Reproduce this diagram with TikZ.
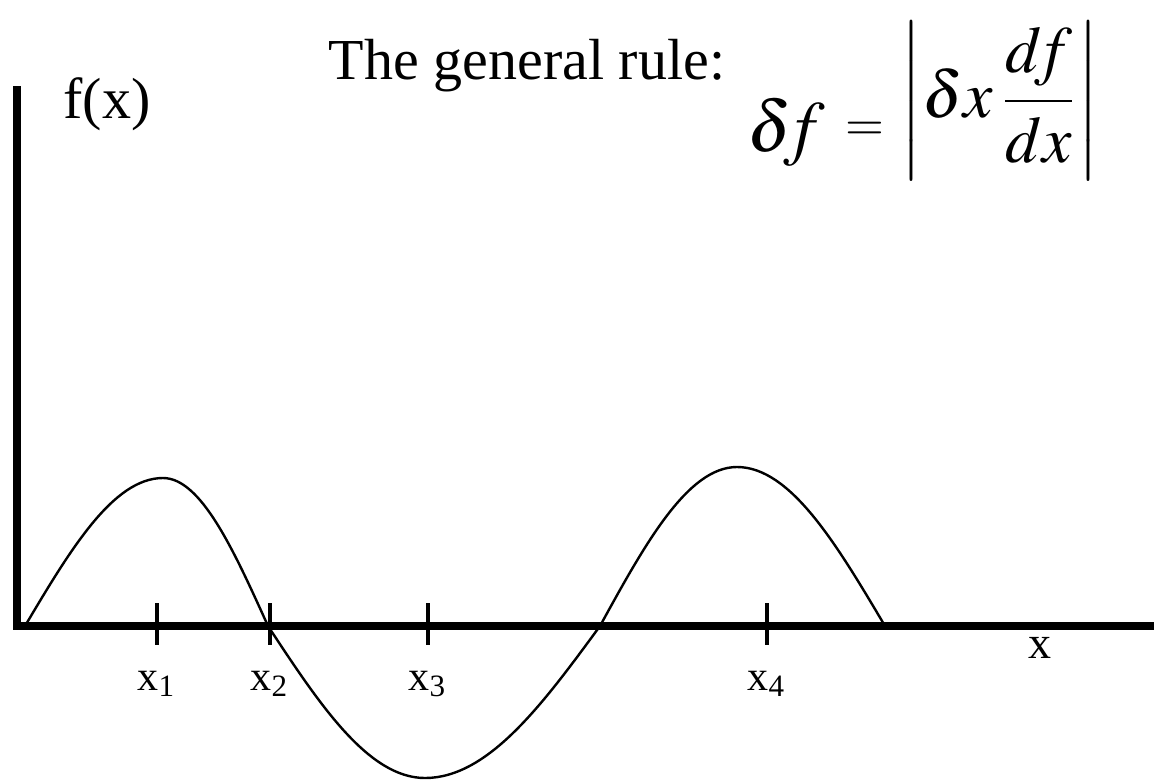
\documentclass[tikz,border=0pt]{standalone}
\usepackage{amsmath}
\usepackage{mathptmx}
\usepackage{fontspec}
\setmainfont{Liberation Serif}
\usetikzlibrary{calc}
\tikzstyle{axis}=[line width=2.1pt, line cap=rect]
\tikzstyle{tick}=[line width=1.1pt]
\tikzstyle{curve}=[line width=0.6pt]
\tikzstyle{lbl}=[inner sep=0pt, font=\fontsize{10.5}{12}\selectfont]
\tikzstyle{formula}=[inner sep=0pt, font=\fontsize{16.5}{18}\selectfont]

\begin{document}
\begin{tikzpicture}[x=0.25pt, y=-0.25pt]
    \useasboundingbox (0,0) rectangle (1154,782);
    \coordinate (o) at (17,626);
    \coordinate (ytop) at (17,90);
    \coordinate (xend) at (1160,626);
    \coordinate (t1) at (157,626);
    \coordinate (t2) at (270,626);
    \coordinate (t3) at (428,626);
    \coordinate (t4) at (767,626);
    \coordinate (c0) at (25,626);
    \coordinate (c1) at (163,478);
    \coordinate (c2) at (268,626);
    \coordinate (c3) at (425,778);
    \coordinate (c4) at (600,626);
    \coordinate (c5) at (737,467);
    \coordinate (c6) at (885,626);
    \draw[axis] (ytop) -- (o) -- (xend);
    \draw[tick] (t1) ++(0,-23) -- ++(0,42);
    \draw[tick] (t2) ++(0,-23) -- ++(0,42);
    \draw[tick] (t3) ++(0,-23) -- ++(0,42);
    \draw[tick] (t4) ++(0,-23) -- ++(0,42);
    \draw[curve] (c0) sin (c1) cos (c2) sin (c3) cos (c4) sin (c5) cos (c6);
    \node[lbl] (x1) at (157,684) {x\textsubscript{1}};
    \node[lbl] (x2) at (270,684) {x\textsubscript{2}};
    \node[lbl] (x3) at (428,684) {x\textsubscript{3}};
    \node[lbl] (x4) at (767,684) {x\textsubscript{4}};
    \node[lbl, font=\fontsize{11.5}{12}\selectfont] (xax) at (1040,648) {x};
    \node[inner sep=0pt, font=\fontsize{14.5}{16}\selectfont] (fx) at (107,104) {f(x)};
    \node[inner sep=0pt, font=\fontsize{14.5}{16}\selectfont] (rule) at (527,66) {The general rule:};
    \node[formula, font=\fontsize{18}{20}\selectfont] (lhs) at (816,132)
        {$\delta\!f$\hspace{5pt}\fontsize{12.5}{14}\selectfont\raisebox{2.8pt}{$=$}};
    \node[formula] (rhs) at (1000,101)
        {$\displaystyle \left|\rule[-12pt]{0pt}{30pt}\delta x\,\frac{d\!f}{dx}\right|$};
\end{tikzpicture}
\end{document}
